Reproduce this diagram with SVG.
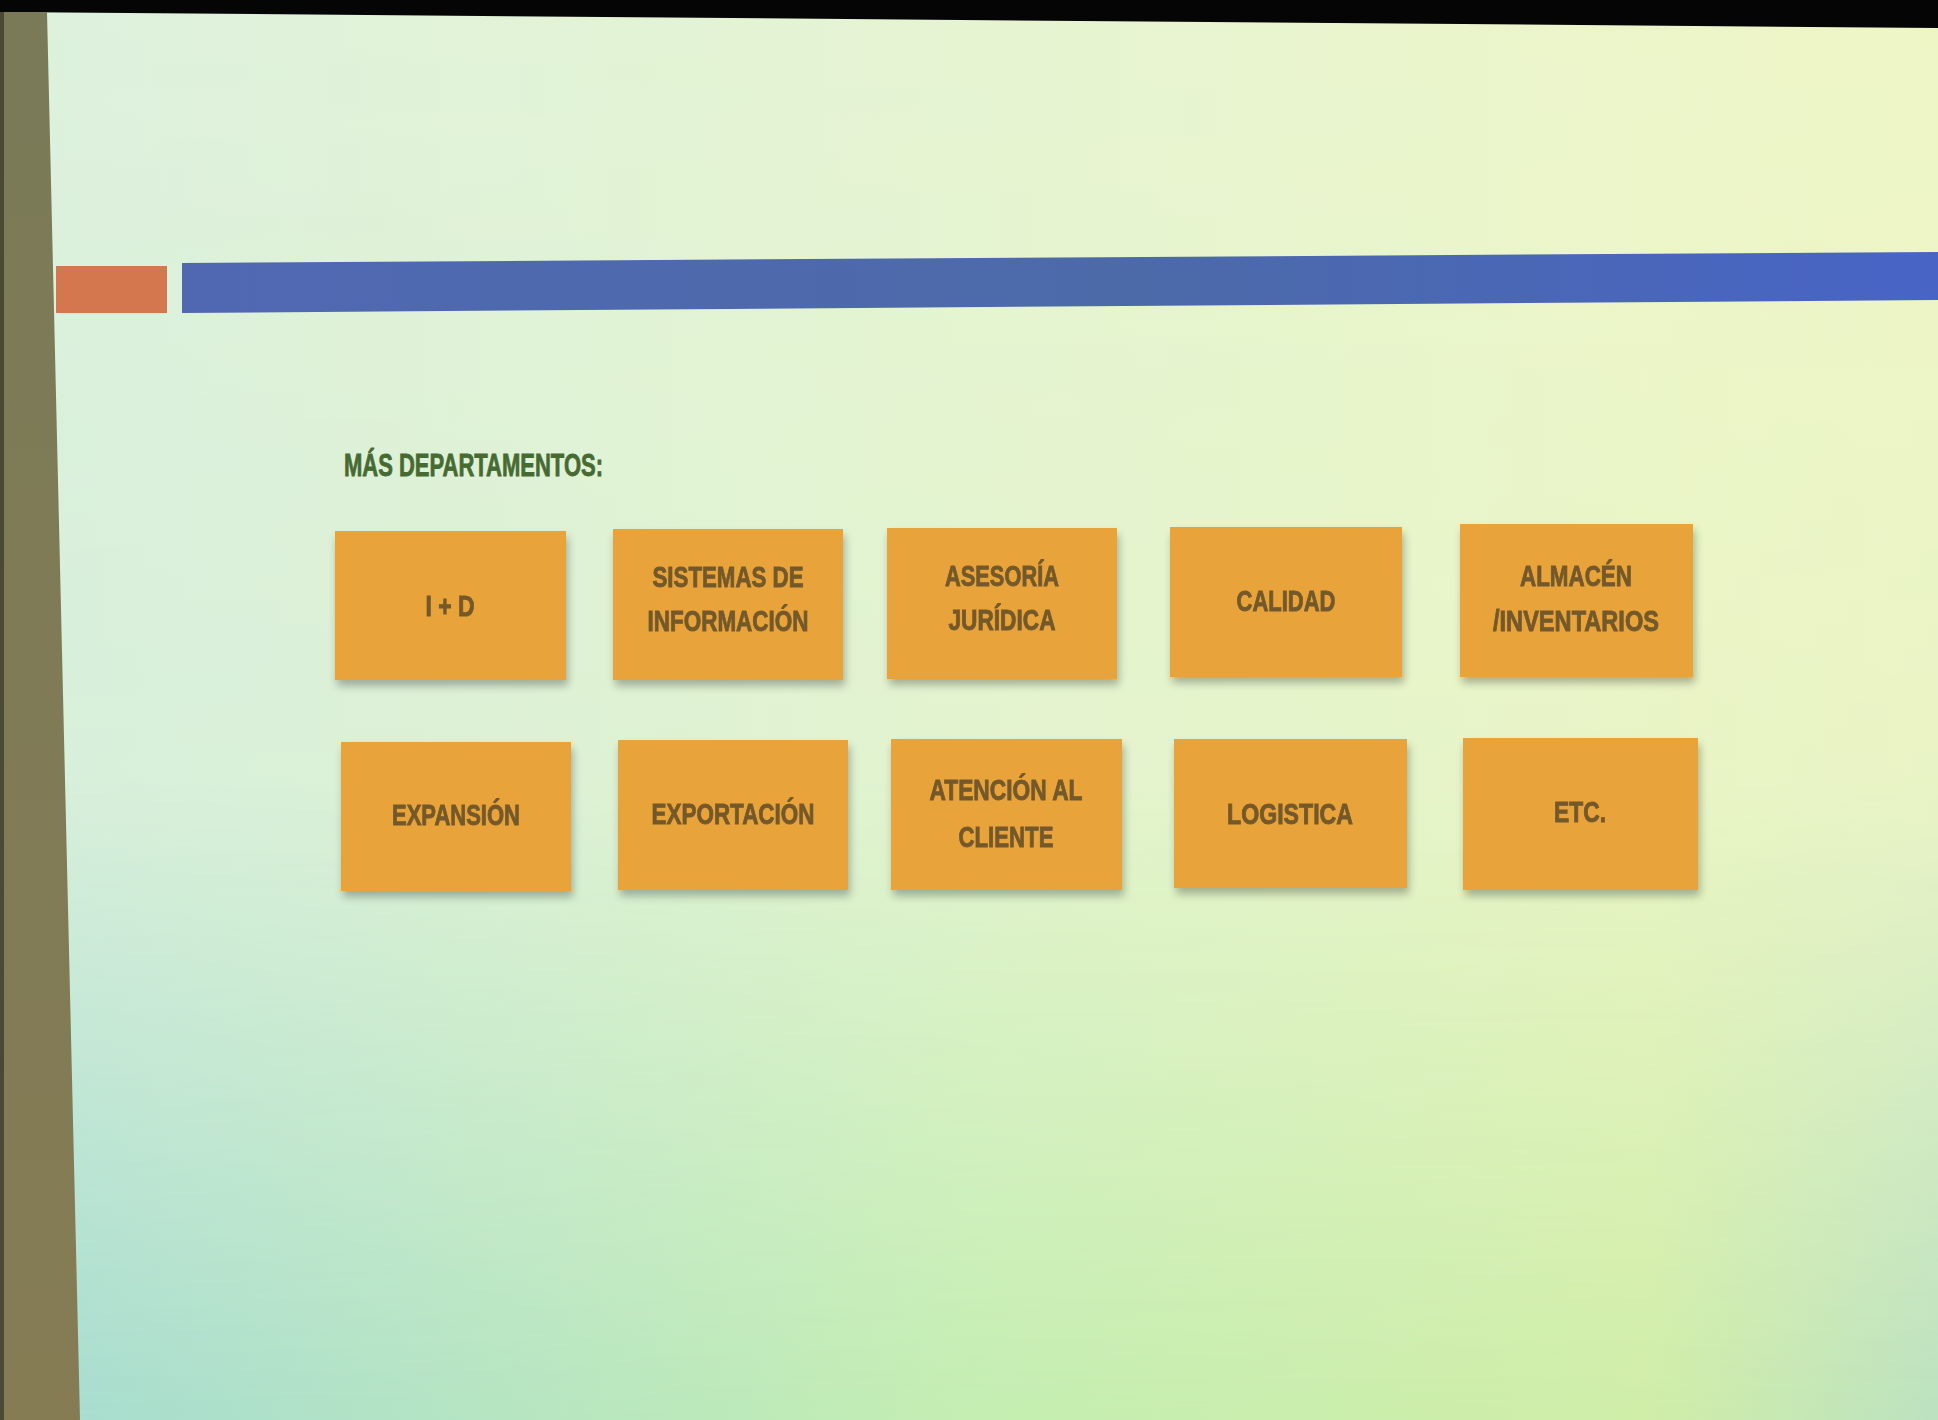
<svg xmlns="http://www.w3.org/2000/svg" width="1938" height="1420" viewBox="0 0 1938 1420">
  <defs>
    <linearGradient id="bgBottom" x1="0" y1="0" x2="1" y2="0">
      <stop offset="0" stop-color="#a6dcd2"/>
      <stop offset="0.5" stop-color="#c4eeb2"/>
      <stop offset="0.85" stop-color="#d0eea8"/>
      <stop offset="1" stop-color="#bce2c0"/>
    </linearGradient>
    <linearGradient id="bgTop" x1="0" y1="0" x2="1" y2="0">
      <stop offset="0" stop-color="#ddf1dd"/>
      <stop offset="0.5" stop-color="#e6f4d2"/>
      <stop offset="1" stop-color="#eff6c6"/>
    </linearGradient>
    <linearGradient id="fadeDown" x1="0" y1="0" x2="0" y2="1">
      <stop offset="0" stop-color="#fff" stop-opacity="1"/>
      <stop offset="0.55" stop-color="#fff" stop-opacity="0.88"/>
      <stop offset="1" stop-color="#fff" stop-opacity="0"/>
    </linearGradient>
    <mask id="topMask">
      <rect x="0" y="0" width="1938" height="1420" fill="url(#fadeDown)"/>
    </mask>
    <linearGradient id="barBlue" x1="0" y1="0" x2="1" y2="0">
      <stop offset="0" stop-color="#5068b2"/>
      <stop offset="0.55" stop-color="#4c6aa8"/>
      <stop offset="1" stop-color="#4864c6"/>
    </linearGradient>
    <linearGradient id="stripOlive" x1="0" y1="0" x2="0" y2="1">
      <stop offset="0" stop-color="#7a7a58"/>
      <stop offset="1" stop-color="#857c54"/>
    </linearGradient>
    <filter id="cardShadow" x="-10%" y="-10%" width="120%" height="130%">
      <feGaussianBlur in="SourceAlpha" stdDeviation="4"/>
      <feOffset dx="2" dy="6" result="off"/>
      <feComponentTransfer><feFuncA type="linear" slope="0.28"/></feComponentTransfer>
      <feMerge><feMergeNode/><feMergeNode in="SourceGraphic"/></feMerge>
    </filter>
  </defs>
  <style>
    .card { fill: #e8a43a; }
    .label { font-family: "Liberation Sans Narrow", "Liberation Sans", "DejaVu Sans Condensed", sans-serif; font-weight: bold; font-size: 30px; fill: #74592a; stroke: #74592a; stroke-width: 0.9; text-anchor: middle; }
    .title { font-family: "Liberation Sans Narrow", "Liberation Sans", "DejaVu Sans Condensed", sans-serif; font-weight: bold; font-size: 32px; fill: #476a32; stroke: #476a32; stroke-width: 0.8; }
  </style>

  <!-- projected slide background -->
  <rect x="0" y="0" width="1938" height="1420" fill="url(#bgBottom)"/>
  <rect x="0" y="0" width="1938" height="1420" fill="url(#bgTop)" mask="url(#topMask)"/>

  <!-- frame edges -->
  <polygon points="0,0 1938,0 1938,28 0,12" fill="#050505"/>
  <polygon points="4,12 47,12 80,1420 4,1420" fill="url(#stripOlive)"/>
  <rect x="0" y="12" width="4" height="1408" fill="#4a4933"/>

  <!-- header bars -->
  <rect x="56" y="266" width="111" height="47" fill="#d4764e"/>
  <polygon points="182,263 1938,252 1938,300 182,313" fill="url(#barBlue)"/>

  <!-- heading -->
  <text class="title" x="344" y="476" textLength="259" lengthAdjust="spacingAndGlyphs">MÁS DEPARTAMENTOS:</text>

  <!-- department cards -->
  <g id="id-i-d" filter="url(#cardShadow)">
    <rect class="card" x="335" y="531" width="231" height="149"/>
    <text class="label" x="450" y="616" textLength="49" lengthAdjust="spacingAndGlyphs">I + D</text>
  </g>
  <g id="sistemas" filter="url(#cardShadow)">
    <rect class="card" x="613" y="529" width="230" height="151"/>
    <text class="label" x="728" y="587" textLength="151" lengthAdjust="spacingAndGlyphs">SISTEMAS DE</text>
    <text class="label" x="728" y="631" textLength="161" lengthAdjust="spacingAndGlyphs">INFORMACIÓN</text>
  </g>
  <g id="asesoria" filter="url(#cardShadow)">
    <rect class="card" x="887" y="528" width="230" height="151"/>
    <text class="label" x="1002" y="586" textLength="114" lengthAdjust="spacingAndGlyphs">ASESORÍA</text>
    <text class="label" x="1002" y="630" textLength="107" lengthAdjust="spacingAndGlyphs">JURÍDICA</text>
  </g>
  <g id="calidad" filter="url(#cardShadow)">
    <rect class="card" x="1170" y="527" width="232" height="150"/>
    <text class="label" x="1286" y="611" textLength="99" lengthAdjust="spacingAndGlyphs">CALIDAD</text>
  </g>
  <g id="almacen" filter="url(#cardShadow)">
    <rect class="card" x="1460" y="524" width="233" height="153"/>
    <text class="label" x="1576" y="586" textLength="112" lengthAdjust="spacingAndGlyphs">ALMACÉN</text>
    <text class="label" x="1576" y="631" textLength="166" lengthAdjust="spacingAndGlyphs">/INVENTARIOS</text>
  </g>

  <g id="expansion" filter="url(#cardShadow)">
    <rect class="card" x="341" y="742" width="230" height="149"/>
    <text class="label" x="456" y="825" textLength="128" lengthAdjust="spacingAndGlyphs">EXPANSIÓN</text>
  </g>
  <g id="exportacion" filter="url(#cardShadow)">
    <rect class="card" x="618" y="740" width="230" height="150"/>
    <text class="label" x="733" y="824" textLength="163" lengthAdjust="spacingAndGlyphs">EXPORTACIÓN</text>
  </g>
  <g id="atencion" filter="url(#cardShadow)">
    <rect class="card" x="891" y="739" width="231" height="151"/>
    <text class="label" x="1006" y="800" textLength="153" lengthAdjust="spacingAndGlyphs">ATENCIÓN AL</text>
    <text class="label" x="1006" y="847" textLength="95" lengthAdjust="spacingAndGlyphs">CLIENTE</text>
  </g>
  <g id="logistica" filter="url(#cardShadow)">
    <rect class="card" x="1174" y="739" width="233" height="149"/>
    <text class="label" x="1290" y="824" textLength="126" lengthAdjust="spacingAndGlyphs">LOGISTICA</text>
  </g>
  <g id="etc" filter="url(#cardShadow)">
    <rect class="card" x="1463" y="738" width="235" height="152"/>
    <text class="label" x="1580" y="822" textLength="52" lengthAdjust="spacingAndGlyphs">ETC.</text>
  </g>

  <g id="connectors"/>
</svg>
